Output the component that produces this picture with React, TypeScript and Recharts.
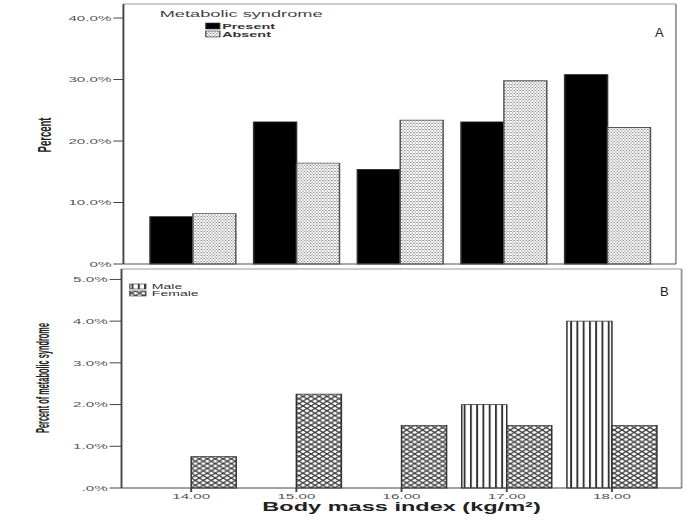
import React from "react";
import { BarChart, Bar, XAxis, YAxis, Legend, CartesianGrid } from "recharts";

// BMI groups shared by both panels
const bmi = ["14.00", "15.00", "16.00", "17.00", "18.00"];

// Panel A: percent of subjects per BMI group, by metabolic syndrome status
const present = [7.7, 23.1, 15.4, 23.1, 30.8];
const absent = [8.2, 16.4, 23.4, 29.8, 22.2];

// Panel B: percent with metabolic syndrome, by sex
const male = [0, 0, 0, 2.0, 4.0];
const female = [0.75, 2.25, 1.5, 1.5, 1.5];

const ticksA = [0, 10, 20, 30, 40];
const ticksB = [0, 1, 2, 3, 4, 5];

// the figure is drawn narrow and then stretched sideways
const W = 365;
const K = 693 / W;
const FONT = "'Liberation Sans', Arial, sans-serif";

const dataA = bmi.map((b, i) => ({ bmi: b, present: present[i], absent: absent[i] }));
const dataB = bmi.map((b, i) => ({ bmi: b, male: male[i], female: female[i] }));

const tickStyle = { fontSize: 8, fill: "#555", fontFamily: FONT };

function Patterns() {
  return (
    <defs>
      <pattern id="dots" width={1.6} height={3} patternUnits="userSpaceOnUse">
        <rect width={1.6} height={3} fill="#fff" />
        <rect width={0.8} height={1} fill="#8f8f8f" />
        <rect x={0.8} y={1.5} width={0.8} height={1} fill="#8f8f8f" />
      </pattern>
      <pattern id="vlines" width={3.3} height={4} patternUnits="userSpaceOnUse">
        <rect width={3.3} height={4} fill="#fff" />
        <rect width={1} height={4} fill="#333" />
      </pattern>
      <pattern id="hatch" width={4.2} height={4.8} patternUnits="userSpaceOnUse">
        <rect width={4.2} height={4.8} fill="#fff" />
        <path d="M0,0 L4.2,4.8 M0,4.8 L4.2,0" stroke="#333" strokeWidth={0.9} />
      </pattern>
    </defs>
  );
}

// keep legend entries in series order
const byOrder = (order: string[]) => (payload: any[] = []) =>
  [...payload].sort((a, b) => order.indexOf(a.value) - order.indexOf(b.value));

function LegendA({ payload }: any) {
  const items = byOrder(["Present", "Absent"])(payload);
  return (
    <svg width={W} height={40} style={{ display: "block" }}>
      <text x={127} y={17.5} textAnchor="middle" fontSize={9.6} fill="#444" fontFamily={FONT}>
        Metabolic syndrome
      </text>
      {items.map((p: any, i: number) => (
        <g key={p.value}>
          <rect x={108.4} y={23 + i * 8} width={7.4} height={6} fill={p.color} stroke="#333" strokeWidth={0.6} />
          <text x={117} y={28.8 + i * 8} fontSize={7.6} fontWeight="bold" fill="#333" fontFamily={FONT}>
            {p.value}
          </text>
        </g>
      ))}
    </svg>
  );
}

function LegendB({ payload }: any) {
  const items = byOrder(["Male", "Female"])(payload);
  return (
    <svg width={W} height={40} style={{ display: "block" }}>
      {items.map((p: any, i: number) => (
        <g key={p.value}>
          <rect x={68.4} y={22 + i * 7} width={8.4} height={5} fill={p.color} stroke="#333" strokeWidth={0.6} />
          <text x={80} y={27.4 + i * 7} fontSize={7.4} fill="#333" fontFamily={FONT}>
            {p.value}
          </text>
        </g>
      ))}
    </svg>
  );
}

function yTitle(text: string, x: number, y: number, length?: number) {
  return () => (
    <text
      x={x}
      y={y}
      transform={`rotate(-90 ${x} ${y})`}
      textAnchor="middle"
      fontSize={9.5}
      fontWeight="bold"
      fill="#222"
      fontFamily={FONT}
      textLength={length}
      lengthAdjust={length ? "spacingAndGlyphs" : undefined}
    >
      {text}
    </text>
  );
}

function xTitle(props: any) {
  const vb = props.viewBox || { x: 0, width: W };
  return (
    <text
      x={vb.x + vb.width / 2}
      y={249.5}
      textAnchor="middle"
      fontSize={12.4}
      fontWeight="bold"
      fill="#222"
      fontFamily={FONT}
    >
      Body mass index (kg/m²)
    </text>
  );
}

// frame lines on the top and right edges of the plot area
const frameTop = ({ offset }: any) => [offset.top];
const frameRight = ({ offset }: any) => [offset.left + offset.width];

export default function App() {
  return (
    <div
      style={{
        position: "absolute",
        left: 0,
        top: 0,
        width: 693,
        height: 520,
        overflow: "hidden",
        background: "#fff",
        fontFamily: FONT,
      }}
    >
      <div
        style={{
          position: "absolute",
          left: 0,
          top: 0,
          width: W,
          height: 520,
          transform: `scaleX(${K})`,
          transformOrigin: "0 0",
        }}
      >
        <div style={{ position: "absolute", left: 0, top: 0 }}>
          <BarChart
            width={W}
            height={268}
            data={dataA}
            margin={{ top: 4, right: 9, bottom: 0, left: 0 }}
            barGap={0}
            barSize={22.6}
          >
            <Patterns />
            <CartesianGrid
              stroke="#999"
              strokeDasharray=""
              horizontalCoordinatesGenerator={frameTop}
              verticalCoordinatesGenerator={frameRight}
            />
            <XAxis dataKey="bmi" height={4} tick={false} tickLine={false} stroke="#555" padding={{ left: 9, right: 9 }} />
            <YAxis
              width={65}
              domain={[0, 42.28]}
              ticks={ticksA}
              interval={0}
              tickSize={5.3}
              tickMargin={1}
              tick={tickStyle}
              stroke="#444"
              tickFormatter={(v: number) => (v === 0 ? "0%" : `${v.toFixed(1)}%`)}
              label={{ content: yTitle("Percent", 27.1, 135) }}
            />
            <Legend layout="horizontal" verticalAlign="middle" align="center" wrapperStyle={{ top: 0, left: 0 }} content={LegendA} />
            <Bar dataKey="present" name="Present" fill="#000" stroke="#333" strokeWidth={0.8} isAnimationActive={false} />
            <Bar dataKey="absent" name="Absent" fill="url(#dots)" stroke="#555" strokeWidth={0.8} isAnimationActive={false} />
          </BarChart>
        </div>
        <div style={{ position: "absolute", left: 0, top: 262 }}>
          <BarChart
            width={W}
            height={258}
            data={dataB}
            margin={{ top: 7, right: 6, bottom: 0, left: 0 }}
            barGap={0}
            barSize={23.7}
          >
            <Patterns />
            <CartesianGrid
              stroke="#999"
              strokeDasharray=""
              horizontalCoordinatesGenerator={frameTop}
              verticalCoordinatesGenerator={frameRight}
            />
            <XAxis
              dataKey="bmi"
              height={32}
              tickSize={4}
              tickMargin={1}
              tick={tickStyle}
              stroke="#444"
              padding={{ left: 9, right: 9 }}
              label={{ content: xTitle }}
            />
            <YAxis
              width={64}
              domain={[0, 5.25]}
              ticks={ticksB}
              interval={0}
              tickSize={6.3}
              tickMargin={1}
              tick={tickStyle}
              stroke="#444"
              tickFormatter={(v: number) => (v === 0 ? ".0%" : `${v.toFixed(1)}%`)}
              label={{ content: yTitle("Percent of metabolic syndrome", 26, 116, 110) }}
            />
            <Legend layout="horizontal" verticalAlign="middle" align="center" wrapperStyle={{ top: 0, left: 0 }} content={LegendB} />
            <Bar dataKey="male" name="Male" fill="url(#vlines)" stroke="#333" strokeWidth={0.8} isAnimationActive={false} />
            <Bar dataKey="female" name="Female" fill="url(#hatch)" stroke="#333" strokeWidth={0.8} isAnimationActive={false} />
          </BarChart>
        </div>
      </div>
      <span style={{ position: "absolute", left: 655, top: 26, fontSize: 13, lineHeight: 1, color: "#222" }}>A</span>
      <span style={{ position: "absolute", left: 660, top: 285, fontSize: 13, lineHeight: 1, color: "#222" }}>B</span>
    </div>
  );
}
